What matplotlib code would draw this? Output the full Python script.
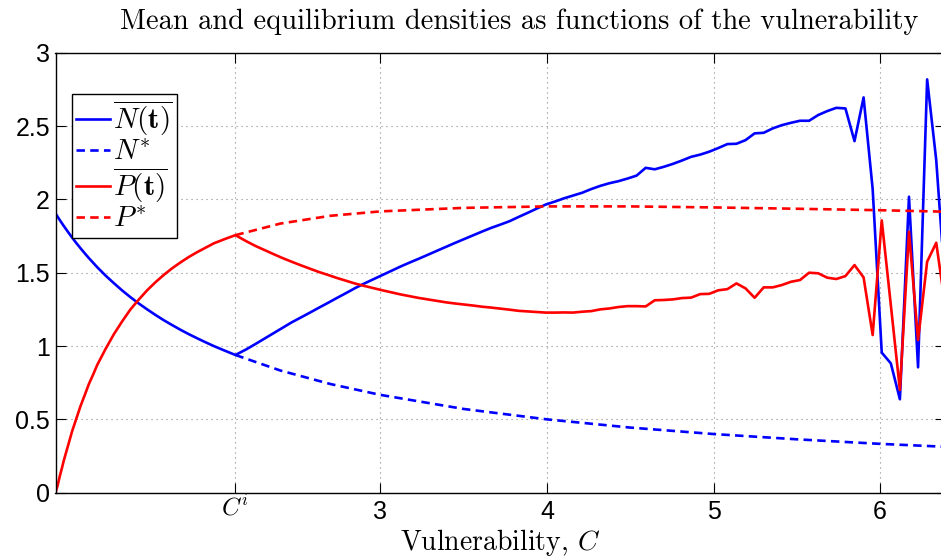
import matplotlib
matplotlib.use("Agg")
import matplotlib.pyplot as plt
from matplotlib.transforms import ScaledTranslation

plt.rcParams["mathtext.fontset"] = "cm"
plt.rcParams["font.family"] = ["Liberation Sans", "DejaVu Sans"]
plt.rcParams["axes.formatter.use_mathtext"] = True

# Hopf threshold on the vulnerability axis
C_HOPF = 2.13

# Equilibrium densities N*, P* as functions of the vulnerability C
C_eq = [1.05, 1.0625, 1.075, 1.0875, 1.10, 1.125, 1.15, 1.175, 1.20, 1.225,
        1.25, 1.275, 1.30, 1.35, 1.40, 1.45, 1.50, 1.55, 1.60, 1.65, 1.70,
        1.75, 1.80, 1.85, 1.90, 1.95, 2.00, 2.065, 2.13, 2.40, 2.70, 3.00,
        3.50, 4.00, 4.50, 5.00, 5.50, 6.00, 6.391]
N_eq = [1.905, 1.882, 1.860, 1.839, 1.818, 1.778, 1.739, 1.702, 1.667, 1.633,
        1.600, 1.569, 1.538, 1.481, 1.429, 1.379, 1.333, 1.290, 1.250, 1.212,
        1.176, 1.143, 1.111, 1.081, 1.053, 1.026, 1.000, 0.969, 0.939, 0.833,
        0.741, 0.667, 0.571, 0.500, 0.444, 0.400, 0.364, 0.333, 0.313]
P_eq = [0.000, 0.048, 0.110, 0.163, 0.220, 0.320, 0.420, 0.505, 0.590, 0.664,
        0.740, 0.803, 0.870, 0.979, 1.080, 1.168, 1.250, 1.317, 1.380, 1.435,
        1.485, 1.530, 1.570, 1.607, 1.640, 1.670, 1.700, 1.729, 1.756, 1.835,
        1.888, 1.918, 1.942, 1.952, 1.952, 1.945, 1.936, 1.926, 1.916]

# Time-averaged densities on the oscillating branch (C >= C^i)
C_osc = [2.13, 2.1945, 2.249, 2.3035, 2.358, 2.4125, 2.467, 2.5215, 2.576,
         2.6305, 2.685, 2.7395, 2.794, 2.8485, 2.903, 2.9575, 3.012, 3.0665,
         3.121, 3.1755, 3.23, 3.2845, 3.339, 3.3935, 3.448, 3.5025, 3.557,
         3.6115, 3.666, 3.7205, 3.775, 3.8295, 3.884, 3.9385, 3.993, 4.0475,
         4.102, 4.1565, 4.211, 4.2655, 4.32, 4.3745, 4.429, 4.4835, 4.538,
         4.5925, 4.647, 4.7015, 4.756, 4.8105, 4.865, 4.9195, 4.974, 5.0285,
         5.083, 5.1375, 5.192, 5.2465, 5.301, 5.3555, 5.41, 5.4645, 5.519,
         5.5735, 5.628, 5.6825, 5.737, 5.7915, 5.846, 5.9005, 5.955, 6.0095,
         6.064, 6.1185, 6.173, 6.2275, 6.282, 6.3365, 6.391]
N_mean = [0.939, 0.977, 1.013, 1.050, 1.087, 1.124, 1.161, 1.194, 1.227, 1.261,
          1.294, 1.328, 1.361, 1.395, 1.426, 1.455, 1.484, 1.513, 1.542, 1.569,
          1.595, 1.622, 1.649, 1.676, 1.703, 1.729, 1.755, 1.781, 1.806, 1.828,
          1.851, 1.880, 1.908, 1.937, 1.965, 1.985, 2.007, 2.026, 2.045, 2.070,
          2.092, 2.110, 2.124, 2.142, 2.162, 2.215, 2.205, 2.222, 2.242, 2.265,
          2.290, 2.305, 2.325, 2.350, 2.377, 2.379, 2.404, 2.450, 2.454, 2.484,
          2.506, 2.522, 2.536, 2.536, 2.575, 2.602, 2.624, 2.620, 2.397, 2.695,
          2.070, 0.955, 0.882, 0.637, 2.018, 0.855, 2.818, 2.268, 1.400]
P_mean = [1.756, 1.715, 1.683, 1.655, 1.627, 1.600, 1.575, 1.551, 1.528, 1.505,
          1.485, 1.464, 1.445, 1.426, 1.410, 1.395, 1.380, 1.366, 1.352, 1.340,
          1.328, 1.318, 1.308, 1.298, 1.290, 1.283, 1.276, 1.268, 1.262, 1.255,
          1.248, 1.240, 1.236, 1.232, 1.228, 1.228, 1.229, 1.228, 1.234, 1.238,
          1.250, 1.256, 1.266, 1.272, 1.272, 1.270, 1.312, 1.314, 1.318, 1.327,
          1.330, 1.354, 1.356, 1.380, 1.388, 1.427, 1.393, 1.329, 1.400, 1.400,
          1.416, 1.438, 1.450, 1.500, 1.496, 1.466, 1.457, 1.477, 1.552, 1.468,
          1.075, 1.857, 1.280, 0.700, 1.779, 1.041, 1.575, 1.704, 1.270]

x_ticks = [C_HOPF, 3, 4, 5, 6]
x_ticklabels = [r"$C^i$", "3", "4", "5", "6"]
y_ticks = [0, 0.5, 1, 1.5, 2, 2.5, 3]
y_ticklabels = ["0", "0.5", "1", "1.5", "2", "2.5", "3"]

# split the equilibrium curves at the Hopf point
i_h = C_eq.index(C_HOPF)
C_stab, N_stab, P_stab = C_eq[:i_h], N_eq[:i_h], P_eq[:i_h]
C_uns, N_uns, P_uns = C_eq[i_h:], N_eq[i_h:], P_eq[i_h:]

W, H = 941, 559
fig = plt.figure(figsize=(W / 100, H / 100), dpi=100)
ax = fig.add_axes([55.5 / W, 66.3 / H, 889.8 / W, 440 / H])

blue, red = "#0000ff", "#ff0000"
lw = 1.9
dash = (3.2, 2.0)
ax.plot(C_stab + C_osc, N_stab + N_mean, color=blue, lw=lw,
        label=r"$\overline{N(\mathbf{t})}$")
ax.plot(C_uns, N_uns, color=blue, lw=lw, dashes=dash, label=r"$N^{*}$")
ax.plot(C_stab + C_osc, P_stab + P_mean, color=red, lw=lw,
        label=r"$\overline{P(\mathbf{t})}$")
ax.plot(C_uns, P_uns, color=red, lw=lw, dashes=dash, label=r"$P^{*}$")

ax.set_xlim(1.05, 6.391)
ax.set_ylim(0, 3)
ax.set_xticks(x_ticks)
ax.set_xticklabels(x_ticklabels)
ax.set_yticks(y_ticks)
ax.set_yticklabels(y_ticklabels)
ax.tick_params(direction="in", length=7, width=0.8, top=True, right=True,
               labelsize=18, colors="black")
ax.tick_params(axis="x", pad=5)
ax.tick_params(axis="y", pad=4)
for s in ax.spines.values():
    s.set_linewidth(1.0)
    s.set_color("black")

# the C^i label sits a little higher than the numeric ones
ci_label = ax.get_xticklabels()[0]
ci_label.set_transform(ci_label.get_transform()
                       + ScaledTranslation(0, 5 / 100, fig.dpi_scale_trans))

ax.grid(True, color="#8a8a8a", linestyle=(0, (1, 3.5)), linewidth=0.8)
ax.set_axisbelow(True)

ax.set_title("Mean and equilibrium densities as functions of the vulnerability",
             family="cmr10", fontsize=20.5, pad=17, x=0.521)
ax.set_xlabel(r"Vulnerability, $C$", family="cmr10", fontsize=20)
ax.xaxis.set_label_coords(0.5, -0.077)

leg = ax.legend(loc="upper left", bbox_to_anchor=(72 / W, 1 - 94 / H),
                bbox_transform=fig.transFigure, fontsize=21, frameon=True,
                fancybox=False, framealpha=1, edgecolor="black",
                borderaxespad=0, borderpad=0.15, handlelength=1.15,
                handletextpad=0.1, labelspacing=0.0)
leg.get_frame().set_linewidth(1.0)

fig.savefig("out.png", dpi=100)
